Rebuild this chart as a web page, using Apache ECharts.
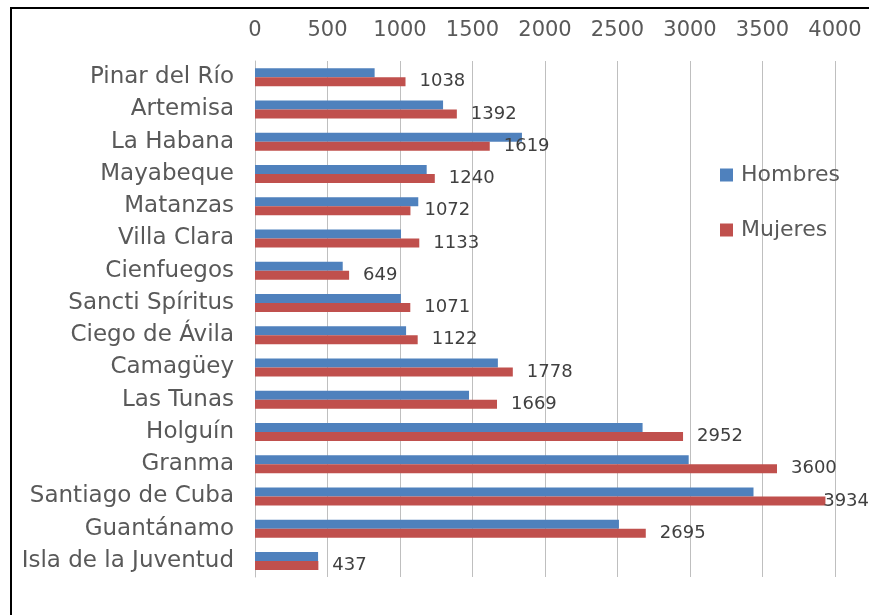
<!DOCTYPE html>
<html>
<head>
<meta charset="utf-8">
<script src="https://cdn.jsdelivr.net/npm/echarts@6/dist/echarts.min.js"></script>
<style>
  html, body { margin: 0; padding: 0; background: #fff; }
  #chart { width: 869px; height: 615px; }
</style>
</head>
<body>
<div id="chart"></div>
<script>
const provincias = ['Pinar del Río', 'Artemisa', 'La Habana', 'Mayabeque', 'Matanzas', 'Villa Clara',
    'Cienfuegos', 'Sancti Spíritus', 'Ciego de Ávila', 'Camagüey', 'Las Tunas', 'Holguín',
    'Granma', 'Santiago de Cuba', 'Guantánamo', 'Isla de la Juventud'];
const hombres = [825, 1297, 1841, 1184, 1126, 1007, 605, 1006, 1042, 1675, 1476, 2673, 2991, 3438, 2510, 435];
const mujeres = [1038, 1392, 1619, 1240, 1072, 1133, 649, 1071, 1122, 1778, 1669, 2952, 3600, 3934, 2695, 437];
const ticks = [0, 500, 1000, 1500, 2000, 2500, 3000, 3500, 4000];

const font = 'DejaVu Sans';
const chartDom = document.getElementById('chart');
const myChart = echarts.init(chartDom);

const option = {
    animation: false,
    grid: { left: 255, right: 34, top: 61, bottom: 38 },
    graphic: [{
        type: 'rect',
        shape: { x: 11, y: 8, width: 900, height: 700 },
        style: { fill: 'none', stroke: '#000', lineWidth: 2 }
    }],
    legend: {
        orient: 'vertical',
        left: 720,
        top: 164,
        padding: 0,
        itemGap: 33,
        itemWidth: 13,
        itemHeight: 13,
        icon: 'rect',
        textStyle: { fontFamily: font, fontSize: 22, color: '#595959', padding: [0, 0, 0, 3] },
        data: ['Hombres', 'Mujeres']
    },
    xAxis: {
        type: 'value',
        position: 'top',
        min: ticks[0],
        max: ticks[ticks.length - 1],
        interval: ticks[1] - ticks[0],
        axisLine: { show: false },
        axisTick: { show: false },
        axisLabel: {
            fontFamily: font, fontSize: 21, color: '#595959', margin: 20,
            formatter: function (v) { return String(v); }
        },
        splitLine: { lineStyle: { color: '#bfbfbf', width: 1 } }
    },
    yAxis: {
        type: 'category',
        inverse: true,
        data: provincias,
        axisLine: { show: true, lineStyle: { color: '#bfbfbf', width: 1 } },
        axisTick: { show: false },
        axisLabel: { fontFamily: font, fontSize: 23, color: '#595959', margin: 21 }
    },
    labelLayout: function (params) {
        // keep labels inside the canvas (like the 3934 one)
        const w = myChart.getWidth();
        const r = params.labelRect;
        if (r.x + r.width > w) {
            return { dx: w - (r.x + r.width) };
        }
    },
    series: [
        {
            name: 'Hombres',
            type: 'bar',
            barWidth: 9,
            barGap: '0%',
            itemStyle: { color: '#4f81bd' },
            data: hombres
        },
        {
            name: 'Mujeres',
            type: 'bar',
            barWidth: 9,
            barGap: '0%',
            itemStyle: { color: '#c0504d' },
            label: {
                show: true,
                position: 'right',
                distance: 14,
                offset: [0, 5],
                fontFamily: font,
                fontSize: 18,
                color: '#404040'
            },
            data: mujeres
        }
    ]
};

myChart.setOption(option);
</script>
</body>
</html>
